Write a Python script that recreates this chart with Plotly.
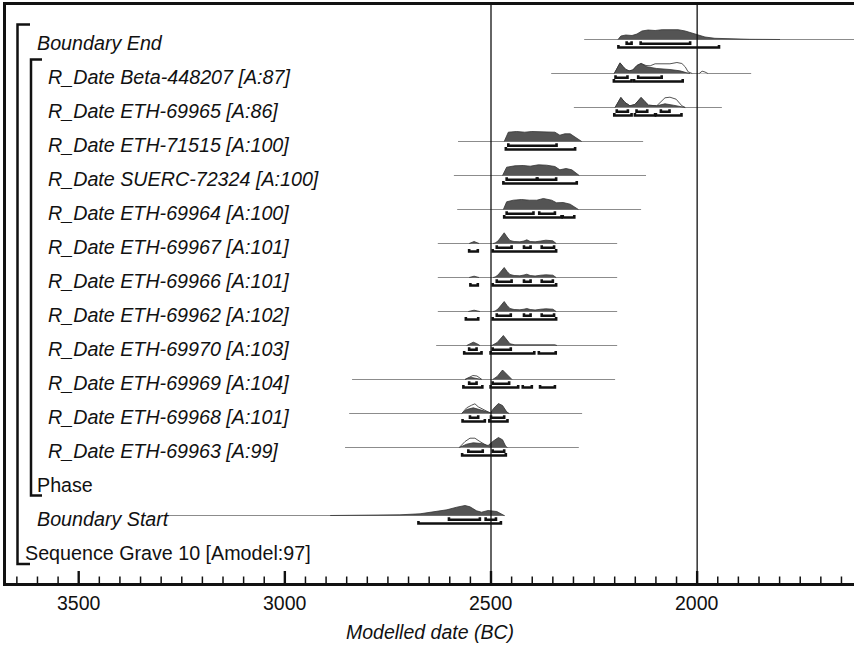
import plotly.graph_objects as go

FONT = "Liberation Sans, Arial, sans-serif"

# ---------------- labels (top to bottom) ----------------
row_labels = [
    "Boundary End",
    "R_Date Beta-448207 [A:87]",
    "R_Date ETH-69965 [A:86]",
    "R_Date ETH-71515 [A:100]",
    "R_Date SUERC-72324 [A:100]",
    "R_Date ETH-69964 [A:100]",
    "R_Date ETH-69967 [A:101]",
    "R_Date ETH-69966 [A:101]",
    "R_Date ETH-69962 [A:102]",
    "R_Date ETH-69970 [A:103]",
    "R_Date ETH-69969 [A:104]",
    "R_Date ETH-69968 [A:101]",
    "R_Date ETH-69963 [A:99]",
    "Phase",
    "Boundary Start",
    "Sequence Grave 10 [Amodel:97]",
]
row_italic = [True] * 13 + [False, True, False]
row_level = [1] + [2] * 12 + [1, 1, 0]   # nesting level (indent)

# ---------------- axis ----------------
tick_major_vals = [3500, 3000, 2500, 2000]
tick_major_text = ["3500", "3000", "2500", "2000"]
tick_minor_step = 50
axis_title = "Modelled date (BC)"

# ---------------- distributions (year BC, relative height) ----------------
end_post_yr = [2192, 2185, 2173, 2158, 2146, 2134, 2119, 2102, 2085, 2066, 2046, 2029, 2017, 2000, 1981, 1957, 1920, 1872, 1799]
end_post_h = [0, 3.5, 4.5, 4.0, 5.5, 8.5, 9.5, 9.0, 9.8, 9.5, 9.8, 8.5, 7.0, 4.5, 2.5, 1.2, 0.5, 0.2, 0]
end_r68 = [(2171, 2159), (2137, 2017)]
end_r95 = [(2191, 1947)]
end_span = (2274, 1600)

beta_post_yr = [2201, 2194, 2187, 2180, 2173, 2165, 2156, 2146, 2136, 2122, 2098, 2066, 2042, 2025, 2017]
beta_post_h = [0, 5, 10.6, 7, 4, 2.6, 3.5, 8, 10, 6.7, 5, 4, 2.7, 0.7, 0]
beta_like_yr = [2201, 2194, 2187, 2180, 2173, 2165, 2156, 2146, 2136, 2124, 2114, 2102, 2083, 2066, 2049, 2037, 2029, 2022, 2012, None, 1995, 1988, 1981, 1974]
beta_like_h = [0, 5, 10.6, 7, 4, 2.6, 3.5, 8, 10, 8, 7.7, 9.7, 10, 9.7, 11, 10, 6.7, 1.7, 0, None, 0, 2.3, 1.5, 0]
beta_r68 = [(2198, 2169), (2143, 2086)]
beta_r95 = [(2202, 2159), (2153, 2035)]
beta_span = (2354, 1869)

e65_post_yr = [2199, 2192, 2185, 2175, 2163, 2151, 2143, 2136, 2127, 2118, 2098, 2078, 2058, 2037, 2029]
e65_post_h = [0, 5, 10, 5, 1.7, 3, 7, 10, 6, 2.3, 1.7, 3.7, 2.3, 0.3, 0]
e65_like_yr = [2199, 2192, 2185, 2175, 2163, 2151, 2143, 2136, 2127, 2118, 2098, 2092, 2078, 2066, 2051, 2037, 2029]
e65_like_h = [0, 5, 10, 5, 1.7, 3, 7, 10, 6, 2.3, 1.7, 4.3, 9.7, 10.3, 8.3, 1.7, 0]
e65_r68 = [(2195, 2168), (2147, 2121), (2088, 2067)]
e65_r95 = [(2201, 2159), (2151, 2102), (2100, 2038)]
e65_span = (2299, 1940)

e15_post_yr = [2468, 2462, 2458, 2438, 2418, 2401, 2381, 2361, 2345, 2333, 2321, 2308, 2296, 2286, 2280]
e15_post_h = [0, 6, 9.3, 10, 9.3, 10, 9.7, 10, 9.3, 6.3, 7.7, 7.7, 4.3, 1, 0]
e15_r68 = [(2458, 2341)]
e15_r95 = [(2464, 2296)]
e15_span = (2580, 2131)

s24_post_yr = [2472, 2466, 2462, 2442, 2422, 2405, 2385, 2365, 2345, 2333, 2318, 2304, 2292, 2286]
s24_post_h = [0, 5, 8.3, 9.7, 10, 9.3, 10.7, 10.3, 9, 5.7, 7, 5.7, 2.3, 0]
s24_r68 = [(2462, 2389), (2387, 2342)]
s24_r95 = [(2470, 2292)]
s24_span = (2590, 2124)

e64_post_yr = [2470, 2462, 2446, 2426, 2407, 2389, 2373, 2353, 2341, 2325, 2308, 2292, 2288]
e64_post_h = [0, 7.7, 9.3, 10, 9.3, 9.3, 11, 9.3, 6.7, 7, 5.3, 1, 0]
e64_r68 = [(2462, 2397), (2383, 2345)]
e64_r95 = [(2468, 2329), (2326, 2298)]
e64_span = (2582, 2136)

e67_post_yr = [2553, 2541, 2529, None, 2495, 2490, 2483, 2476, 2468, 2461, 2454, 2444, 2430, 2420, 2413, 2405, 2393, 2379, 2367, 2350, 2342]
e67_post_h = [0, 2, 0, None, 0, 0.5, 2.5, 6, 10.7, 6.5, 3, 2, 1.7, 2.5, 3.7, 2, 1.7, 2.5, 3.3, 2.7, 0]
e67_r68 = [(2486, 2450), (2420, 2404), (2377, 2347)]
e67_r95 = [(2553, 2532), (2496, 2342)]
e67_span = (2629, 2194)

e66_post_yr = [2553, 2541, 2529, None, 2495, 2490, 2483, 2476, 2468, 2461, 2454, 2444, 2430, 2420, 2413, 2405, 2393, 2379, 2367, 2350, 2342]
e66_post_h = [0, 1.3, 0, None, 0, 0.5, 2.5, 6, 10, 6, 3, 2, 1.7, 2.5, 3.3, 2, 1.5, 2.3, 2.7, 2.3, 0]
e66_r68 = [(2486, 2450), (2420, 2404), (2377, 2350)]
e66_r95 = [(2550, 2532), (2496, 2342)]
e66_span = (2629, 2194)

e62_post_yr = [2555, 2541, 2527, None, 2495, 2490, 2483, 2476, 2468, 2461, 2454, 2444, 2430, 2420, 2413, 2405, 2393, 2379, 2367, 2350, 2342]
e62_post_h = [0, 1.3, 0, None, 0, 0.5, 2.5, 6.5, 10, 6, 3, 2, 1.7, 2.3, 3, 2, 1.5, 2.3, 2.7, 2.3, 0]
e62_r68 = [(2486, 2452), (2420, 2404), (2377, 2347)]
e62_r95 = [(2561, 2531), (2496, 2342)]
e62_span = (2629, 2194)

e70_post_yr = [2559, 2551, 2543, 2535, 2527, None, 2498, 2485, 2470, 2461, 2454, 2442, 2425, 2412, 2400, 2380, 2345, 2340]
e70_post_h = [0, 2, 3.3, 2, 0, None, 0, 3, 10, 5, 1.7, 0.7, 0.7, 1.3, 0.7, 0.7, 0.7, 0]
e70_r68 = [(2553, 2535), (2496, 2452)]
e70_r95 = [(2565, 2523), (2501, 2395), (2384, 2343)]
e70_span = (2633, 2194)

e69_post_yr = [2563, 2555, 2547, 2535, 2523, None, 2496, 2485, 2472, 2461, 2452, 2449]
e69_post_h = [0, 1.5, 2, 1.3, 0, None, 0, 3, 9.5, 5, 0.5, 0]
e69_like_yr = [2563, 2553, 2544, 2534, 2522]
e69_like_h = [0, 2.5, 4, 3.5, 0]
e69_r68 = [(2553, 2535), (2496, 2456)]
e69_r95 = [(2567, 2521), (2501, 2434), (2423, 2401), (2381, 2345)]
e69_span = (2837, 2199)

e68_post_yr = [2571, 2559, 2543, 2527, 2510, 2501, 2494, 2482, 2472, 2462, 2456]
e68_post_h = [0, 4, 5.7, 4, 1.7, 0.7, 5, 10, 8, 1.7, 0]
e68_like_yr = [2571, 2559, 2547, 2539, 2531, 2519, 2507, 2501]
e68_like_h = [0, 5.7, 8.3, 9.7, 6.7, 4, 1.3, 0.3]
e68_r68 = [(2551, 2531), (2500, 2468)]
e68_r95 = [(2569, 2515), (2504, 2460)]
e68_span = (2844, 2279)

e63_post_yr = [2577, 2559, 2543, 2523, 2507, 2496, 2482, 2472, 2464, 2460]
e63_post_h = [0, 3.3, 4.7, 4, 2, 6, 10, 7.7, 1, 0]
e63_like_yr = [2577, 2563, 2551, 2539, 2527, 2515, 2504]
e63_like_h = [0, 6, 9.3, 9.3, 6, 2.7, 0.3]
e63_r68 = [(2555, 2520), (2496, 2468)]
e63_r95 = [(2570, 2464)]
e63_span = (2854, 2287)

start_post_yr = [2890, 2793, 2721, 2672, 2641, 2607, 2583, 2563, 2551, 2535, 2523, 2507, 2486, 2474, 2468]
start_post_h = [0, 0.4, 0.7, 1.7, 3.3, 5.7, 8.3, 10, 8.7, 4.7, 3.3, 5, 4, 1.3, 0]
start_r68 = [(2602, 2527), (2513, 2488)]
start_r95 = [(2676, 2476)]
start_span = (3300, 2466)

# table used for drawing: (row index, post yr, post h, like yr, like h, r68, r95, span)
dists = [
    (0, end_post_yr, end_post_h, None, None, end_r68, end_r95, end_span),
    (1, beta_post_yr, beta_post_h, beta_like_yr, beta_like_h, beta_r68, beta_r95, beta_span),
    (2, e65_post_yr, e65_post_h, e65_like_yr, e65_like_h, e65_r68, e65_r95, e65_span),
    (3, e15_post_yr, e15_post_h, None, None, e15_r68, e15_r95, e15_span),
    (4, s24_post_yr, s24_post_h, None, None, s24_r68, s24_r95, s24_span),
    (5, e64_post_yr, e64_post_h, None, None, e64_r68, e64_r95, e64_span),
    (6, e67_post_yr, e67_post_h, None, None, e67_r68, e67_r95, e67_span),
    (7, e66_post_yr, e66_post_h, None, None, e66_r68, e66_r95, e66_span),
    (8, e62_post_yr, e62_post_h, None, None, e62_r68, e62_r95, e62_span),
    (9, e70_post_yr, e70_post_h, None, None, e70_r68, e70_r95, e70_span),
    (10, e69_post_yr, e69_post_h, e69_like_yr, e69_like_h, e69_r68, e69_r95, e69_span),
    (11, e68_post_yr, e68_post_h, e68_like_yr, e68_like_h, e68_r68, e68_r95, e68_span),
    (12, e63_post_yr, e63_post_h, e63_like_yr, e63_like_h, e63_r68, e63_r95, e63_span),
    (14, start_post_yr, start_post_h, None, None, start_r68, start_r95, start_span),
]

# ---------------- layout constants (pixels) ----------------
W, H = 854, 646
ML, MR, MT, MB = 6, 0, 5, 63
PW, PH = W - ML - MR, H - MT - MB
PX_PER_YEAR = 0.4123
X_REF_YEAR, X_REF_PX = 2500, 491
x_left = X_REF_YEAR + (X_REF_PX - ML) / PX_PER_YEAR
x_right = X_REF_YEAR - (W - MR - X_REF_PX) / PX_PER_YEAR
AXIS_Y = MT + PH

ROW0, ROW_STEP = 39.5, 34.0
OFF68, OFF95, TICKH = 4.3, 8.0, 2.6
indent_px = {0: 23, 1: 35, 2: 45.5}


def base_y(i):
    return ROW0 + ROW_STEP * i


def px2paper(px):
    return (px - ML) / PW


def neg(h, b):
    return [None if v is None else b - v for v in h]


def bracket_path(ranges, y):
    xs, ys = [], []
    for a, b in ranges:
        xs += [a, a, b, b, None]
        ys += [y - TICKH, y, y, y - TICKH, None]
    return xs, ys


fig = go.Figure()

for (ri, pyr, ph, lyr, lh, r68, r95, span) in dists:
    b = base_y(ri)
    fig.add_trace(go.Scatter(x=list(span), y=[b, b], mode="lines",
                             line=dict(color="#8c8c8c", width=1), hoverinfo="skip"))
    if lyr is not None:
        fig.add_trace(go.Scatter(x=lyr, y=neg(lh, b), mode="lines", fill="toself",
                                 fillcolor="white", line=dict(color="#555555", width=1),
                                 hoverinfo="skip"))
    fig.add_trace(go.Scatter(x=pyr, y=neg(ph, b), mode="lines", fill="toself",
                             fillcolor="#545454", line=dict(color="#333333", width=0.8),
                             hoverinfo="skip"))
    for rng, off in ((r68, OFF68), (r95, OFF95)):
        xs, ys = bracket_path(rng, b + off)
        fig.add_trace(go.Scatter(x=xs, y=ys, mode="lines",
                                 line=dict(color="#111111", width=2.6), hoverinfo="skip"))

# vertical reference lines
for yr in (2500, 2000):
    fig.add_shape(type="line", xref="x", yref="paper", x0=yr, x1=yr, y0=0, y1=1,
                  line=dict(color="#111111", width=1.3))

# axis ticks drawn inward (upwards) as line traces
lo, hi = int(min(x_left, x_right)), int(max(x_left, x_right))
minor_x, minor_y, major_x, major_y = [], [], [], []
for yr in range((lo // tick_minor_step + 1) * tick_minor_step, hi + 1, tick_minor_step):
    if yr in tick_major_vals:
        major_x += [yr, yr, None]
        major_y += [AXIS_Y, AXIS_Y - 12, None]
    else:
        minor_x += [yr, yr, None]
        minor_y += [AXIS_Y, AXIS_Y - 6.5, None]
fig.add_trace(go.Scatter(x=minor_x, y=minor_y, mode="lines",
                         line=dict(color="#111111", width=1.5), hoverinfo="skip"))
fig.add_trace(go.Scatter(x=major_x, y=major_y, mode="lines",
                         line=dict(color="#111111", width=2.4), hoverinfo="skip"))

# tick labels
for v, t in zip(tick_major_vals, tick_major_text):
    fig.add_annotation(x=v, xref="x", xanchor="center", y=(AXIS_Y - 602.5) / PH,
                       yref="paper", yanchor="middle", text=t, showarrow=False,
                       font=dict(family=FONT, size=19.5, color="#111111"))

# nesting brackets
seq_top, seq_bot = base_y(0) - 15, base_y(15) + 14.5
ph_top, ph_bot = base_y(1) - 14, base_y(13) + 14
for x0, x1, y0, y1 in ((17.5, 30, seq_top, seq_bot), (31, 42, ph_top, ph_bot)):
    fig.add_shape(type="path", xref="paper", yref="y",
                  path=f"M {px2paper(x1)},{y0} L {px2paper(x0)},{y0} L {px2paper(x0)},{y1} L {px2paper(x1)},{y1}",
                  line=dict(color="#111111", width=2.5))

# labels
for i, (lab, it, lev) in enumerate(zip(row_labels, row_italic, row_level)):
    fig.add_annotation(x=px2paper(indent_px[lev]), xref="paper", xanchor="left",
                       y=base_y(i) + 3.5, yref="y", yanchor="middle",
                       text=f"<i>{lab}</i>" if it else lab, showarrow=False,
                       font=dict(family=FONT, size=19.7, color="#111111"))

fig.add_annotation(x=0.5, xref="paper", xanchor="center",
                   y=(AXIS_Y - 632) / PH, yref="paper", yanchor="middle",
                   text=f"<i>{axis_title}</i>", showarrow=False,
                   font=dict(family=FONT, size=19.5, color="#111111"))

fig.update_xaxes(range=[x_left, x_right], showticklabels=False, ticks="",
                 showline=True, linewidth=2.5, linecolor="#111111", mirror=True,
                 showgrid=False, zeroline=False)
fig.update_yaxes(range=[AXIS_Y, MT], showline=True, linewidth=2.5, linecolor="#111111",
                 mirror=False, showgrid=False, zeroline=False, showticklabels=False, ticks="")

fig.update_layout(width=W, height=H, margin=dict(l=ML, r=MR, t=MT, b=MB),
                  plot_bgcolor="white", paper_bgcolor="white", showlegend=False)

fig.write_html("out.html")
